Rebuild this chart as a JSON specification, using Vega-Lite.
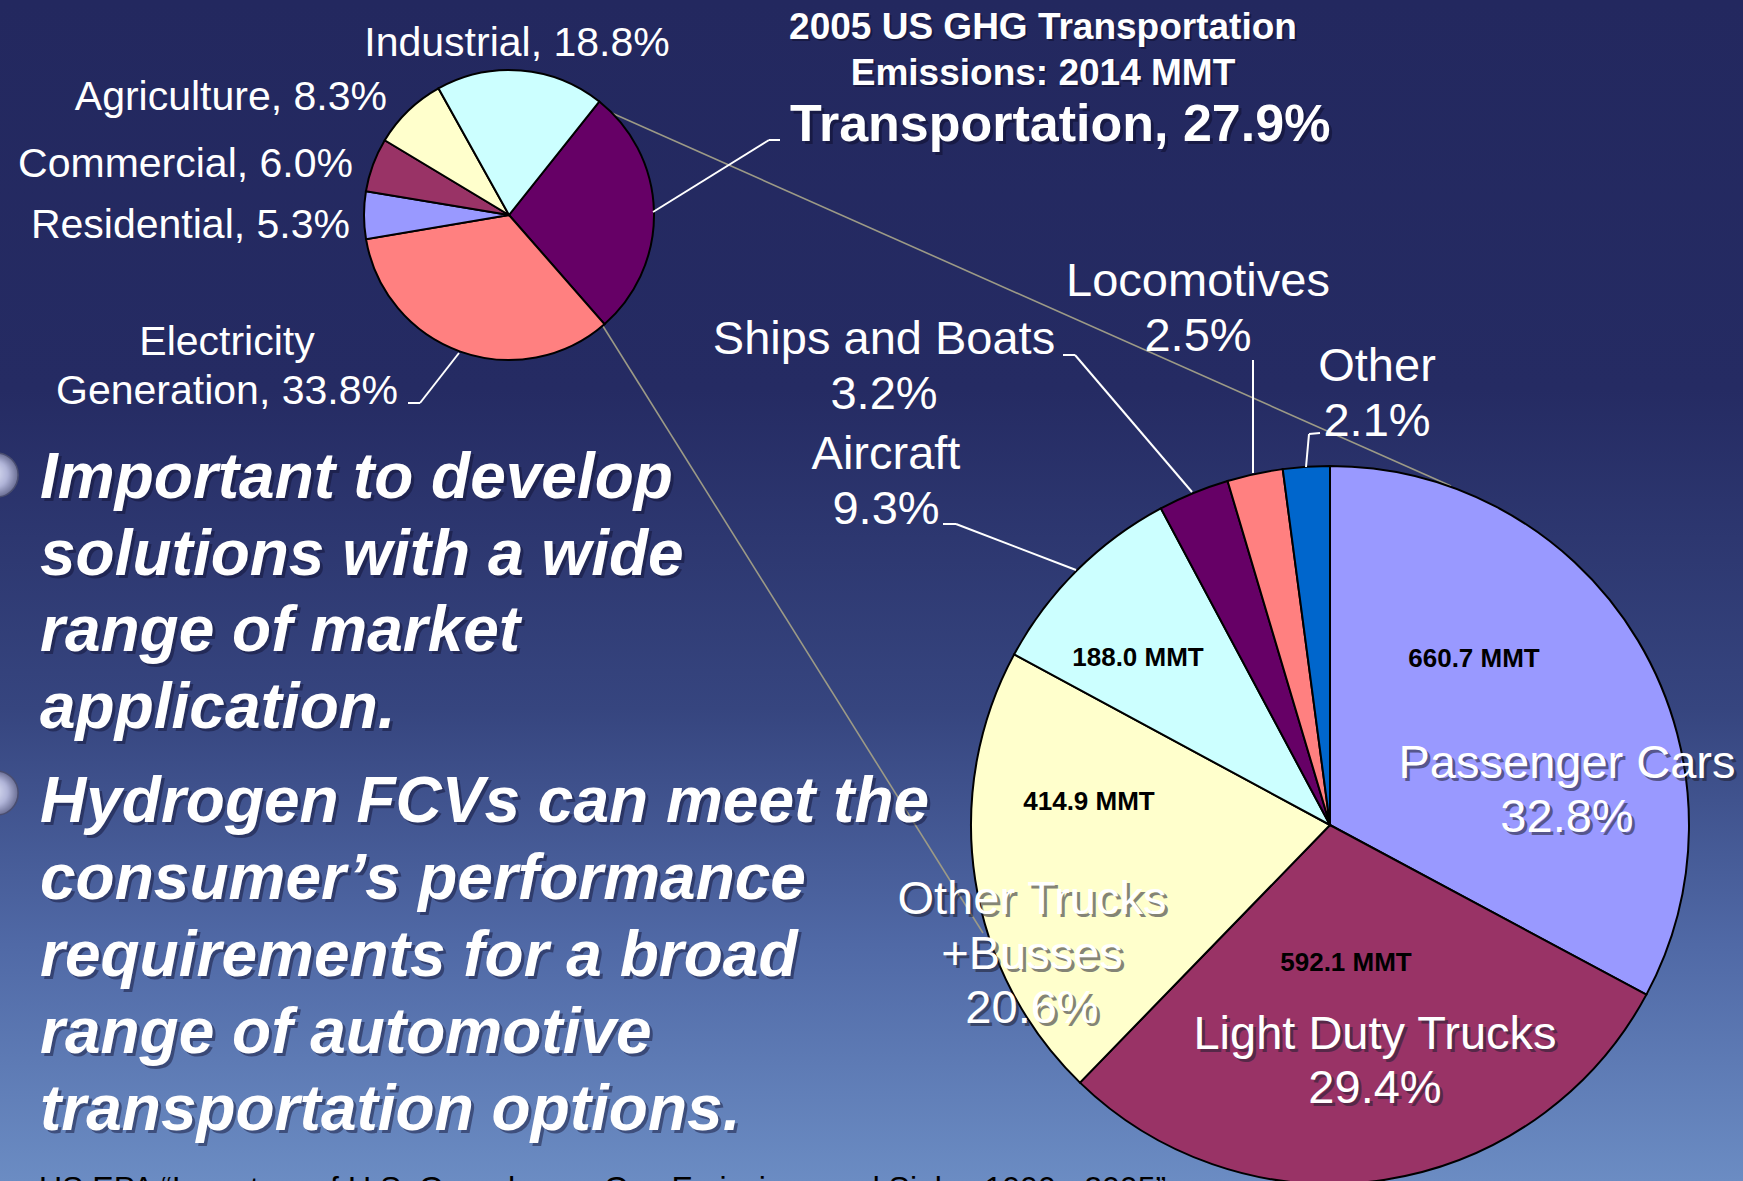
{
  "$schema": "https://vega.github.io/schema/vega-lite/v6.json",
  "width": 1743,
  "height": 1181,
  "padding": 0,
  "autosize": {"type": "fit", "contains": "padding"},
  "background": "#23285f",
  "config": {
    "view": {"stroke": null},
    "axis": {"disable": true},
    "text": {"font": "Liberation Sans", "color": "white"}
  },
  "datasets": {
    "sectors": [
      {"sector": "Transportation", "share": 27.9, "rank": 1, "label": "Transportation, 27.9%"},
      {"sector": "Electricity Generation", "share": 33.8, "rank": 2, "label": "Electricity\nGeneration, 33.8%"},
      {"sector": "Residential", "share": 5.3, "rank": 3, "label": "Residential, 5.3%"},
      {"sector": "Commercial", "share": 6.0, "rank": 4, "label": "Commercial, 6.0%"},
      {"sector": "Agriculture", "share": 8.3, "rank": 5, "label": "Agriculture, 8.3%"},
      {"sector": "Industrial", "share": 18.8, "rank": 6, "label": "Industrial, 18.8%"}
    ],
    "transport": [
      {"mode": "Passenger Cars", "share": 32.8, "mmt": 660.7, "label": "Passenger Cars\n32.8%", "mmtLabel": "660.7 MMT"},
      {"mode": "Light Duty Trucks", "share": 29.4, "mmt": 592.1, "label": "Light Duty Trucks\n29.4%", "mmtLabel": "592.1 MMT"},
      {"mode": "Other Trucks +Busses", "share": 20.6, "mmt": 414.9, "label": "Other Trucks\n+Busses\n20.6%", "mmtLabel": "414.9 MMT"},
      {"mode": "Aircraft", "share": 9.3, "mmt": 188.0, "label": "Aircraft\n9.3%", "mmtLabel": "188.0 MMT"},
      {"mode": "Ships and Boats", "share": 3.2, "label": "Ships and Boats\n3.2%"},
      {"mode": "Locomotives", "share": 2.5, "label": "Locomotives\n2.5%"},
      {"mode": "Other", "share": 2.1, "label": "Other\n2.1%"}
    ]
  },
  "resolve": {"scale": {"color": "independent", "theta": "independent"}},
  "layer": [
    {
      "data": {"values": [{}]},
      "mark": {
        "type": "rect",
        "fill": {
          "gradient": "linear", "x1": 0, "y1": 0, "x2": 0, "y2": 1,
          "stops": [
            {"offset": 0, "color": "#23285f"},
            {"offset": 0.33, "color": "#252b63"},
            {"offset": 0.6, "color": "#36457f"},
            {"offset": 0.8, "color": "#5069a6"},
            {"offset": 1, "color": "#6b8cc3"}
          ]
        }
      },
      "encoding": {
        "x": {"datum": 0, "type": "quantitative", "scale": {"domain": [0, 1743], "nice": false, "zero": false}, "axis": null},
        "x2": {"datum": 1743},
        "y": {"datum": 0, "type": "quantitative", "scale": {"domain": [0, 1181], "nice": false, "zero": false, "reverse": true}, "axis": null},
        "y2": {"datum": 1181}
      }
    },
    {
      "data": {"values": [{}]},
      "layer": [
        {"mark": {"type": "rule", "color": "#9c9a86", "strokeWidth": 1.6},
         "encoding": {"x": {"datum": 605}, "y": {"datum": 110}, "x2": {"datum": 1451}, "y2": {"datum": 486}}},
        {"mark": {"type": "rule", "color": "#9c9a86", "strokeWidth": 1.6},
         "encoding": {"x": {"datum": 601}, "y": {"datum": 323}, "x2": {"datum": 983}, "y2": {"datum": 933}}}
      ]
    },
    {
      "data": {"name": "sectors"},
      "mark": {"type": "arc", "outerRadius": 145, "stroke": "black", "strokeWidth": 2},
      "encoding": {
        "x": {"datum": 509},
        "y": {"datum": 215},
        "theta": {"field": "share", "type": "quantitative", "stack": true, "scale": {"domain": [0, 100.1], "range": [0.672, 6.955]}},
        "order": {"field": "rank", "type": "quantitative"},
        "color": {
          "field": "sector", "type": "nominal", "legend": null,
          "scale": {
            "domain": ["Transportation", "Electricity Generation", "Residential", "Commercial", "Agriculture", "Industrial"],
            "range": ["#660066", "#ff8080", "#9999ff", "#993366", "#ffffcc", "#ccffff"]
          }
        }
      }
    },
    {
      "data": {"name": "transport"},
      "mark": {"type": "arc", "outerRadius": 359, "stroke": "black", "strokeWidth": 2, "clip": true},
      "encoding": {
        "x": {"datum": 1330},
        "y": {"datum": 825},
        "theta": {"field": "share", "type": "quantitative", "stack": true, "scale": {"domain": [0, 99.9], "range": [0, 6.2832]}},
        "order": {"field": "share", "type": "quantitative", "sort": "descending"},
        "color": {
          "field": "mode", "type": "nominal", "legend": null,
          "scale": {
            "domain": ["Passenger Cars", "Light Duty Trucks", "Other Trucks +Busses", "Aircraft", "Ships and Boats", "Locomotives", "Other"],
            "range": ["#9999ff", "#993366", "#ffffcc", "#ccffff", "#660066", "#ff8080", "#0066cc"]
          }
        }
      }
    },
    {
      "data": {"values": [{}]},
      "layer": [
        {"mark": {"type": "rule", "color": "white", "strokeWidth": 2}, "encoding": {"x": {"datum": 408}, "y": {"datum": 403}, "x2": {"datum": 420}, "y2": {"datum": 403}}},
        {"mark": {"type": "rule", "color": "white", "strokeWidth": 2}, "encoding": {"x": {"datum": 420}, "y": {"datum": 403}, "x2": {"datum": 459}, "y2": {"datum": 353}}},
        {"mark": {"type": "rule", "color": "white", "strokeWidth": 2}, "encoding": {"x": {"datum": 653}, "y": {"datum": 212}, "x2": {"datum": 769}, "y2": {"datum": 140}}},
        {"mark": {"type": "rule", "color": "white", "strokeWidth": 2}, "encoding": {"x": {"datum": 769}, "y": {"datum": 140}, "x2": {"datum": 780}, "y2": {"datum": 140}}},
        {"mark": {"type": "rule", "color": "white", "strokeWidth": 2}, "encoding": {"x": {"datum": 1063}, "y": {"datum": 355}, "x2": {"datum": 1075}, "y2": {"datum": 355}}},
        {"mark": {"type": "rule", "color": "white", "strokeWidth": 2}, "encoding": {"x": {"datum": 1075}, "y": {"datum": 355}, "x2": {"datum": 1192}, "y2": {"datum": 492}}},
        {"mark": {"type": "rule", "color": "white", "strokeWidth": 2}, "encoding": {"x": {"datum": 1253}, "y": {"datum": 360}, "x2": {"datum": 1253}, "y2": {"datum": 473}}},
        {"mark": {"type": "rule", "color": "white", "strokeWidth": 2}, "encoding": {"x": {"datum": 1320}, "y": {"datum": 433}, "x2": {"datum": 1309}, "y2": {"datum": 434}}},
        {"mark": {"type": "rule", "color": "white", "strokeWidth": 2}, "encoding": {"x": {"datum": 1309}, "y": {"datum": 434}, "x2": {"datum": 1306}, "y2": {"datum": 467}}},
        {"mark": {"type": "rule", "color": "white", "strokeWidth": 2}, "encoding": {"x": {"datum": 943}, "y": {"datum": 524}, "x2": {"datum": 956}, "y2": {"datum": 524}}},
        {"mark": {"type": "rule", "color": "white", "strokeWidth": 2}, "encoding": {"x": {"datum": 956}, "y": {"datum": 524}, "x2": {"datum": 1076}, "y2": {"datum": 570}}}
      ]
    },
    {
      "data": {"name": "sectors"},
      "layer": [
        {"transform": [{"filter": "datum.sector === 'Industrial'"}],
         "mark": {"type": "text", "fontSize": 41, "align": "center", "baseline": "alphabetic"},
         "encoding": {"x": {"datum": 517}, "y": {"datum": 56}, "text": {"field": "label"}}},
        {"transform": [{"filter": "datum.sector === 'Agriculture'"}],
         "mark": {"type": "text", "fontSize": 41, "align": "right", "baseline": "alphabetic"},
         "encoding": {"x": {"datum": 387}, "y": {"datum": 110}, "text": {"field": "label"}}},
        {"transform": [{"filter": "datum.sector === 'Commercial'"}],
         "mark": {"type": "text", "fontSize": 41, "align": "right", "baseline": "alphabetic"},
         "encoding": {"x": {"datum": 353}, "y": {"datum": 177}, "text": {"field": "label"}}},
        {"transform": [{"filter": "datum.sector === 'Residential'"}],
         "mark": {"type": "text", "fontSize": 41, "align": "right", "baseline": "alphabetic"},
         "encoding": {"x": {"datum": 350}, "y": {"datum": 238}, "text": {"field": "label"}}},
        {"transform": [{"filter": "datum.sector === 'Electricity Generation'"}],
         "mark": {"type": "text", "fontSize": 41, "align": "center", "baseline": "alphabetic", "lineBreak": "\n", "lineHeight": 49},
         "encoding": {"x": {"datum": 227}, "y": {"datum": 355}, "text": {"field": "label"}}},
        {"transform": [{"filter": "datum.sector === 'Transportation'"}],
         "mark": {"type": "text", "fontSize": 52, "fontWeight": "bold", "align": "left", "baseline": "alphabetic", "color": "#111133", "opacity": 0.6, "dx": 3, "dy": 3},
         "encoding": {"x": {"datum": 790}, "y": {"datum": 141}, "text": {"field": "label"}}},
        {"transform": [{"filter": "datum.sector === 'Transportation'"}],
         "mark": {"type": "text", "fontSize": 52, "fontWeight": "bold", "align": "left", "baseline": "alphabetic"},
         "encoding": {"x": {"datum": 790}, "y": {"datum": 141}, "text": {"field": "label"}}}
      ]
    },
    {
      "data": {"values": [{"t": "2005 US GHG Transportation"}]},
      "layer": [
        {"mark": {"type": "text", "fontSize": 37, "fontWeight": "bold", "align": "center", "baseline": "alphabetic", "color": "#111133", "opacity": 0.6, "dx": 2, "dy": 2},
         "encoding": {"x": {"datum": 1043}, "y": {"datum": 39}, "text": {"field": "t"}}},
        {"mark": {"type": "text", "fontSize": 37, "fontWeight": "bold", "align": "center", "baseline": "alphabetic"},
         "encoding": {"x": {"datum": 1043}, "y": {"datum": 39}, "text": {"field": "t"}}}
      ]
    },
    {
      "data": {"values": [{"t": "Emissions: 2014 MMT"}]},
      "layer": [
        {"mark": {"type": "text", "fontSize": 37, "fontWeight": "bold", "align": "center", "baseline": "alphabetic", "color": "#111133", "opacity": 0.6, "dx": 2, "dy": 2},
         "encoding": {"x": {"datum": 1043}, "y": {"datum": 85}, "text": {"field": "t"}}},
        {"mark": {"type": "text", "fontSize": 37, "fontWeight": "bold", "align": "center", "baseline": "alphabetic"},
         "encoding": {"x": {"datum": 1043}, "y": {"datum": 85}, "text": {"field": "t"}}}
      ]
    },
    {
      "data": {"name": "transport"},
      "layer": [
        {"transform": [{"filter": "datum.mode === 'Passenger Cars'"}],
         "mark": {"type": "text", "fontSize": 47, "align": "center", "baseline": "alphabetic", "lineBreak": "\n", "lineHeight": 54, "color": "#202030", "opacity": 0.55, "dx": 3, "dy": 3},
         "encoding": {"x": {"datum": 1567}, "y": {"datum": 778}, "text": {"field": "label"}}},
        {"transform": [{"filter": "datum.mode === 'Passenger Cars'"}],
         "mark": {"type": "text", "fontSize": 47, "align": "center", "baseline": "alphabetic", "lineBreak": "\n", "lineHeight": 54},
         "encoding": {"x": {"datum": 1567}, "y": {"datum": 778}, "text": {"field": "label"}}},
        {"transform": [{"filter": "datum.mode === 'Light Duty Trucks'"}],
         "mark": {"type": "text", "fontSize": 47, "align": "center", "baseline": "alphabetic", "lineBreak": "\n", "lineHeight": 54, "color": "#202030", "opacity": 0.55, "dx": 3, "dy": 3},
         "encoding": {"x": {"datum": 1375}, "y": {"datum": 1049}, "text": {"field": "label"}}},
        {"transform": [{"filter": "datum.mode === 'Light Duty Trucks'"}],
         "mark": {"type": "text", "fontSize": 47, "align": "center", "baseline": "alphabetic", "lineBreak": "\n", "lineHeight": 54},
         "encoding": {"x": {"datum": 1375}, "y": {"datum": 1049}, "text": {"field": "label"}}},
        {"transform": [{"filter": "datum.mode === 'Other Trucks +Busses'"}],
         "mark": {"type": "text", "fontSize": 47, "align": "center", "baseline": "alphabetic", "lineBreak": "\n", "lineHeight": 54.5, "color": "#202030", "opacity": 0.55, "dx": 3, "dy": 3},
         "encoding": {"x": {"datum": 1032}, "y": {"datum": 914}, "text": {"field": "label"}}},
        {"transform": [{"filter": "datum.mode === 'Other Trucks +Busses'"}],
         "mark": {"type": "text", "fontSize": 47, "align": "center", "baseline": "alphabetic", "lineBreak": "\n", "lineHeight": 54.5},
         "encoding": {"x": {"datum": 1032}, "y": {"datum": 914}, "text": {"field": "label"}}},
        {"transform": [{"filter": "datum.mode === 'Locomotives'"}],
         "mark": {"type": "text", "fontSize": 47, "align": "center", "baseline": "alphabetic", "lineBreak": "\n", "lineHeight": 55},
         "encoding": {"x": {"datum": 1198}, "y": {"datum": 296}, "text": {"field": "label"}}},
        {"transform": [{"filter": "datum.mode === 'Other'"}],
         "mark": {"type": "text", "fontSize": 47, "align": "center", "baseline": "alphabetic", "lineBreak": "\n", "lineHeight": 55},
         "encoding": {"x": {"datum": 1377}, "y": {"datum": 381}, "text": {"field": "label"}}},
        {"transform": [{"filter": "datum.mode === 'Ships and Boats'"}],
         "mark": {"type": "text", "fontSize": 47, "align": "center", "baseline": "alphabetic", "lineBreak": "\n", "lineHeight": 55},
         "encoding": {"x": {"datum": 884}, "y": {"datum": 354}, "text": {"field": "label"}}},
        {"transform": [{"filter": "datum.mode === 'Aircraft'"}],
         "mark": {"type": "text", "fontSize": 47, "align": "center", "baseline": "alphabetic", "lineBreak": "\n", "lineHeight": 55},
         "encoding": {"x": {"datum": 886}, "y": {"datum": 469}, "text": {"field": "label"}}},
        {"transform": [{"filter": "datum.mode === 'Passenger Cars'"}],
         "mark": {"type": "text", "fontSize": 26, "fontWeight": "bold", "align": "center", "baseline": "alphabetic", "color": "black"},
         "encoding": {"x": {"datum": 1474}, "y": {"datum": 667}, "text": {"field": "mmtLabel"}}},
        {"transform": [{"filter": "datum.mode === 'Aircraft'"}],
         "mark": {"type": "text", "fontSize": 26, "fontWeight": "bold", "align": "center", "baseline": "alphabetic", "color": "black"},
         "encoding": {"x": {"datum": 1138}, "y": {"datum": 666}, "text": {"field": "mmtLabel"}}},
        {"transform": [{"filter": "datum.mode === 'Other Trucks +Busses'"}],
         "mark": {"type": "text", "fontSize": 26, "fontWeight": "bold", "align": "center", "baseline": "alphabetic", "color": "black"},
         "encoding": {"x": {"datum": 1089}, "y": {"datum": 810}, "text": {"field": "mmtLabel"}}},
        {"transform": [{"filter": "datum.mode === 'Light Duty Trucks'"}],
         "mark": {"type": "text", "fontSize": 26, "fontWeight": "bold", "align": "center", "baseline": "alphabetic", "color": "black"},
         "encoding": {"x": {"datum": 1346}, "y": {"datum": 971}, "text": {"field": "mmtLabel"}}}
      ]
    },
    {
      "data": {"values": [{"t": "Important to develop\nsolutions with a wide\nrange of market\napplication."}]},
      "layer": [
        {"mark": {"type": "text", "fontSize": 64, "fontWeight": "bold", "fontStyle": "italic", "align": "left", "baseline": "alphabetic", "lineBreak": "\n", "lineHeight": 76.7, "color": "#101030", "opacity": 0.45, "dx": 3, "dy": 3},
         "encoding": {"x": {"datum": 40}, "y": {"datum": 498}, "text": {"field": "t"}}},
        {"mark": {"type": "text", "fontSize": 64, "fontWeight": "bold", "fontStyle": "italic", "align": "left", "baseline": "alphabetic", "lineBreak": "\n", "lineHeight": 76.7},
         "encoding": {"x": {"datum": 40}, "y": {"datum": 498}, "text": {"field": "t"}}}
      ]
    },
    {
      "data": {"values": [{"t": "Hydrogen FCVs can meet the\nconsumer’s performance\nrequirements for a broad\nrange of automotive\ntransportation options."}]},
      "layer": [
        {"mark": {"type": "text", "fontSize": 64, "fontWeight": "bold", "fontStyle": "italic", "align": "left", "baseline": "alphabetic", "lineBreak": "\n", "lineHeight": 77, "color": "#101030", "opacity": 0.45, "dx": 3, "dy": 3},
         "encoding": {"x": {"datum": 40}, "y": {"datum": 822}, "text": {"field": "t"}}},
        {"mark": {"type": "text", "fontSize": 64, "fontWeight": "bold", "fontStyle": "italic", "align": "left", "baseline": "alphabetic", "lineBreak": "\n", "lineHeight": 77},
         "encoding": {"x": {"datum": 40}, "y": {"datum": 822}, "text": {"field": "t"}}}
      ]
    },
    {
      "data": {"values": [{}]},
      "layer": [
        {"mark": {"type": "point", "filled": true, "size": 1963, "clip": true, "strokeWidth": 1.5, "stroke": "#4a4e70", "opacity": 1,
                  "fill": {"gradient": "radial", "x1": 0.4, "y1": 0.45, "r1": 0, "x2": 0.5, "y2": 0.5, "r2": 0.5,
                           "stops": [{"offset": 0, "color": "#e4e8f8"}, {"offset": 0.6, "color": "#b0b4d8"}, {"offset": 1, "color": "#6a6e94"}]}},
         "encoding": {"x": {"datum": -4}, "y": {"datum": 475}}},
        {"mark": {"type": "point", "filled": true, "size": 1963, "clip": true, "strokeWidth": 1.5, "stroke": "#4a4e70", "opacity": 1,
                  "fill": {"gradient": "radial", "x1": 0.4, "y1": 0.45, "r1": 0, "x2": 0.5, "y2": 0.5, "r2": 0.5,
                           "stops": [{"offset": 0, "color": "#e4e8f8"}, {"offset": 0.6, "color": "#b0b4d8"}, {"offset": 1, "color": "#6a6e94"}]}},
         "encoding": {"x": {"datum": -4}, "y": {"datum": 793}}},
        {"mark": {"type": "text", "fontSize": 32, "align": "left", "baseline": "alphabetic", "color": "black", "clip": true},
         "encoding": {"x": {"datum": 39}, "y": {"datum": 1199}, "text": {"value": "US EPA “Inventory of U.S. Greenhouse Gas Emissions and Sinks: 1990 - 2005”"}}}
      ]
    }
  ]
}
